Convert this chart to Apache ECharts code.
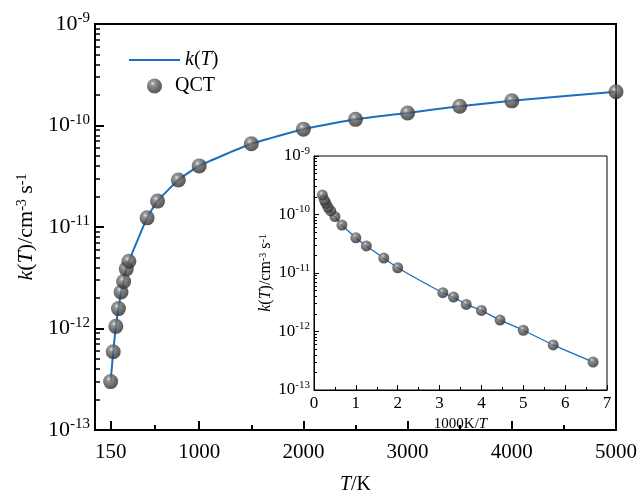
<!DOCTYPE html>
<html><head><meta charset="utf-8">
<script src="https://cdn.jsdelivr.net/npm/echarts@6/dist/echarts.min.js"></script>
<style>html,body{margin:0;padding:0;background:#fff}#c{width:640px;height:500px}</style>
</head><body><div id="c"></div>
<script>
// ---- data ----
const temperatures = [150,175,200,225,250,275,300,325,500,600,800,1000,1500,2000,2500,3000,3500,4000,5000];
const rateQCT = [3.0e-13,5.9e-13,1.05e-12,1.57e-12,2.29e-12,2.9e-12,3.87e-12,4.6e-12,1.23e-11,1.8e-11,2.9e-11,4.0e-11,6.6e-11,9.2e-11,1.15e-10,1.33e-10,1.55e-10,1.75e-10,2.15e-10];
const mainXTicks = [150,1000,2000,3000,4000,5000];
const mainXMinorTicks = [575,1500,2500,3500,4500];
const decadeTicks = [1e-13,1e-12,1e-11,1e-10,1e-9];
const insetXTicks = [0,1,2,3,4,5,6,7];

// ---- derived ----
const minorLogTicks = [];
for (let d = 0; d < decadeTicks.length - 1; d++) {
  for (let m = 2; m <= 9; m++) minorLogTicks.push(decadeTicks[d] * m);
}
const mainData = temperatures.map((t, i) => [t, rateQCT[i]]);
const insetData = temperatures.map((t, i) => [1000 / t, rateQCT[i]]);

const FONT = '"Liberation Serif","Times New Roman",serif';
const BLUE = '#1c6fc0';
const sphere = {
  type: 'radial', x: 0.38, y: 0.33, r: 0.7,
  colorStops: [
    {offset: 0, color: '#dcdcdc'},
    {offset: 0.22, color: '#7c7c7c'},
    {offset: 0.6, color: '#4c4c4c'},
    {offset: 1, color: '#2a2a2a'}
  ]
};
function expLabel(v) {
  const e = Math.round(Math.log10(v));
  return '{b|10}{s|' + e + '}';
}
function richLab(base, sup) {
  return {
    b: {fontFamily: FONT, fontSize: base, color: '#000', lineHeight: base + 4},
    s: {fontFamily: FONT, fontSize: sup, color: '#000', verticalAlign: 'top', lineHeight: sup}
  };
}
function richName(base, sup) {
  return {
    i: {fontFamily: FONT, fontSize: base, fontStyle: 'italic', color: '#000'},
    n: {fontFamily: FONT, fontSize: base, color: '#000'},
    s: {fontFamily: FONT, fontSize: sup, color: '#000', verticalAlign: 'top', lineHeight: sup}
  };
}
const blackLine = (w) => ({show: true, lineStyle: {color: '#000', width: w}});
const plain = (v) => String(v);

const chart = echarts.init(document.getElementById('c'), null, {renderer: 'canvas'});
chart.setOption({
  animation: false,
  backgroundColor: '#fff',
  grid: [
    {left: 95, right: 23, top: 24, bottom: 57, show: true, borderColor: '#000', borderWidth: 2, containLabel: false},
    {left: 314, right: 33, top: 156, bottom: 110, show: true, borderColor: '#000', borderWidth: 1, backgroundColor: '#fff', containLabel: false}
  ],
  xAxis: [
    {
      gridIndex: 0, type: 'value', position: 'bottom', min: 0, max: 5000,
      axisLine: blackLine(2), splitLine: {show: false},
      axisTick: {show: true, inside: true, length: 9, lineStyle: {color: '#000', width: 2}, customValues: mainXTicks},
      axisLabel: {customValues: mainXTicks, formatter: plain, fontFamily: FONT, fontSize: 21, color: '#000', margin: 12},
      name: '{i|T}{n|/K}', nameLocation: 'middle', nameGap: 45,
      nameTextStyle: {rich: richName(20, 13)}
    },
    {
      gridIndex: 0, type: 'value', position: 'bottom', min: 0, max: 5000,
      axisLine: {show: false}, splitLine: {show: false}, axisLabel: {show: false},
      axisTick: {show: true, inside: true, length: 5, lineStyle: {color: '#000', width: 2}, customValues: mainXMinorTicks}
    },
    {
      gridIndex: 1, type: 'value', position: 'bottom', min: 0, max: 7, interval: 1,
      axisLine: blackLine(1), splitLine: {show: false},
      axisTick: {show: true, inside: true, length: 5, lineStyle: {color: '#000'}, customValues: insetXTicks},
      minorTick: {show: true, splitNumber: 2, length: 3, lineStyle: {color: '#000'}},
      axisLabel: {customValues: insetXTicks, fontFamily: FONT, fontSize: 17, color: '#000', margin: 5},
      name: '{n|1000K/}{i|T}', nameLocation: 'middle', nameGap: 27,
      nameTextStyle: {rich: richName(15, 10)}
    }
  ],
  yAxis: [
    {
      gridIndex: 0, type: 'log', position: 'left', logBase: 10, min: 1e-13, max: 1e-9,
      axisLine: blackLine(2), splitLine: {show: false},
      axisTick: {show: true, inside: true, length: 9, lineStyle: {color: '#000', width: 2}, customValues: decadeTicks},
      axisLabel: {customValues: decadeTicks, formatter: expLabel, rich: richLab(22, 15), margin: 5},
      name: '{i|k}{n|(}{i|T}{n|)/cm}{s|-3}{n| s}{s|-1}', nameLocation: 'middle', nameGap: 58, nameRotate: 90,
      nameTextStyle: {rich: richName(22, 14)}
    },
    {
      gridIndex: 0, type: 'log', position: 'left', logBase: 10, min: 1e-13, max: 1e-9,
      axisLine: {show: false}, splitLine: {show: false}, axisLabel: {show: false},
      axisTick: {show: true, inside: true, length: 5, lineStyle: {color: '#000', width: 1.5}, customValues: minorLogTicks}
    },
    {
      gridIndex: 1, type: 'log', position: 'left', logBase: 10, min: 1e-13, max: 1e-9,
      axisLine: blackLine(1), splitLine: {show: false},
      axisTick: {show: true, inside: true, length: 5, lineStyle: {color: '#000'}, customValues: decadeTicks},
      axisLabel: {customValues: decadeTicks, formatter: expLabel, rich: richLab(17, 11), margin: 4},
      name: '{i|k}{n|(}{i|T}{n|)/cm}{s|-3}{n| s}{s|-1}', nameLocation: 'middle', nameGap: 40, nameRotate: 90,
      nameTextStyle: {rich: richName(16, 10)}
    },
    {
      gridIndex: 1, type: 'log', position: 'left', logBase: 10, min: 1e-13, max: 1e-9,
      axisLine: {show: false}, splitLine: {show: false}, axisLabel: {show: false},
      axisTick: {show: true, inside: true, length: 3, lineStyle: {color: '#000'}, customValues: minorLogTicks}
    }
  ],
  legend: [
    {
      left: 124, top: 45, orient: 'vertical', itemWidth: 51, itemHeight: 2, icon: 'rect',
      data: [{name: 'k(T)', icon: 'rect'}],
      formatter: () => '{i|k}{n|(}{i|T}{n|)}',
      textStyle: {rich: richName(20, 13)}
    },
    {
      left: 142, top: 71, orient: 'vertical', itemWidth: 15, itemHeight: 15,
      data: [{name: 'QCT', icon: 'circle'}],
      textStyle: {fontFamily: FONT, fontSize: 20, color: '#000', padding: [0, 0, 0, 8]}
    }
  ],
  series: [
    {
      name: 'k(T)', type: 'line', xAxisIndex: 0, yAxisIndex: 0, data: mainData,
      smooth: 0.15, symbol: 'none',
      lineStyle: {color: BLUE, width: 2}, itemStyle: {color: BLUE}, z: 2
    },
    {
      name: 'QCT', type: 'scatter', xAxisIndex: 0, yAxisIndex: 0, data: mainData,
      symbol: 'circle', symbolSize: 15, itemStyle: {color: sphere}, z: 3
    },
    {
      name: 'k(T) inset', type: 'line', xAxisIndex: 2, yAxisIndex: 2, data: insetData,
      smooth: 0.15, symbol: 'none', lineStyle: {color: BLUE, width: 1.3}, z: 12
    },
    {
      name: 'QCT inset', type: 'scatter', xAxisIndex: 2, yAxisIndex: 2, data: insetData,
      symbol: 'circle', symbolSize: 11, itemStyle: {color: sphere}, z: 13
    }
  ]
});
</script></body></html>
